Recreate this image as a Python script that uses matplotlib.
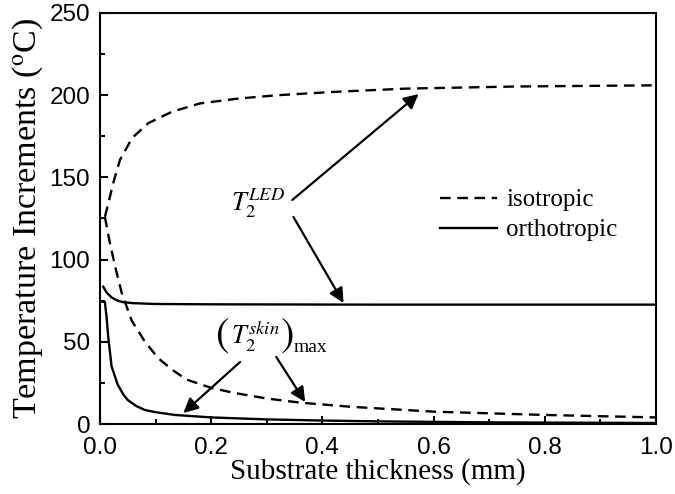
import matplotlib
matplotlib.use("Agg")
import matplotlib.pyplot as plt
from matplotlib.ticker import MultipleLocator

plt.rcParams['mathtext.fontset'] = 'stix'

# Data
iso_led_x = [0.009, 0.015, 0.024, 0.036, 0.058, 0.087, 0.13, 0.18, 0.25, 0.32, 0.42, 0.55, 0.75, 1.0]
iso_led_y = [126, 134, 146.6, 160.6, 174, 183, 190, 195, 198, 200, 202, 204, 205.3, 206]

iso_skin_x = [0.009, 0.018, 0.028, 0.039, 0.057, 0.081, 0.105, 0.13, 0.156, 0.2, 0.24, 0.3, 0.36, 0.45, 0.6, 0.8, 1.0]
iso_skin_y = [126, 110, 95, 80, 63, 50, 40, 33, 27, 22, 19, 15.5, 13, 10.5, 7.5, 5.5, 4]

orth_led_x = [0.006, 0.012, 0.021, 0.03, 0.04, 0.06, 0.1, 0.2, 0.5, 1.0]
orth_led_y = [83.5, 80, 77, 75.3, 74.2, 73.5, 73, 72.8, 72.6, 72.6]

orth_skin_x = [0.003, 0.009, 0.012, 0.015, 0.021, 0.032, 0.042, 0.05, 0.065, 0.081, 0.1, 0.135, 0.2, 0.3, 0.4, 0.5, 0.7, 1.0]
orth_skin_y = [74.5, 74.2, 65, 53, 35, 24, 18, 14.6, 11, 8.5, 7.2, 5.5, 4.0, 2.8, 2.1, 1.6, 1.0, 0.6]

series_labels = ["isotropic", "orthotropic"]
x_ticks = [0.0, 0.2, 0.4, 0.6, 0.8, 1.0]
y_ticks = [0, 50, 100, 150, 200, 250]

fig = plt.figure(figsize=(6.75, 4.94), dpi=100)
ax = fig.add_axes([0.148, 0.1417, 0.824, 0.832])

dash = (0, (4.5, 2.8))
l1, = ax.plot(iso_led_x, iso_led_y, color='k', lw=1.7, linestyle=dash, label=series_labels[0])
ax.plot(iso_skin_x, iso_skin_y, color='k', lw=1.7, linestyle=dash)
l2, = ax.plot(orth_led_x, orth_led_y, color='k', lw=1.7, label=series_labels[1])
ax.plot(orth_skin_x, orth_skin_y, color='k', lw=1.7)

ax.set_xlim(0, 1.0)
ax.set_ylim(0, 250)
ax.set_xticks(x_ticks)
ax.set_yticks(y_ticks)
ax.set_xticklabels([f"{v:.1f}" for v in x_ticks])
ax.set_yticklabels([str(v) for v in y_ticks])
ax.xaxis.set_minor_locator(MultipleLocator(0.1))
ax.yaxis.set_minor_locator(MultipleLocator(25))
ax.tick_params(which='both', direction='in', top=False, right=False, width=1.5)
ax.tick_params(which='major', length=6, labelsize=17.5)
ax.tick_params(axis='x', which='major', pad=9)
ax.tick_params(axis='y', which='major', pad=7)
ax.tick_params(which='minor', length=3.5)
for lab in ax.get_xticklabels() + ax.get_yticklabels():
    lab.set_fontfamily('Liberation Sans')
for s in ax.spines.values():
    s.set_linewidth(1.5)

ax.set_xlabel("Substrate thickness (mm)", fontfamily='Liberation Serif', fontsize=21, labelpad=0)
ax.set_ylabel(r"Temperature Increments ($^{\rm o}$C)", fontfamily='Liberation Serif', fontsize=24.5, labelpad=3)

leg = ax.legend(handles=[l1, l2], loc='center left', bbox_to_anchor=(0.611, 0.508),
                frameon=False, borderpad=0, borderaxespad=0, handlelength=2.3,
                handletextpad=0.35, labelspacing=0.3,
                prop={'family': 'Liberation Serif', 'size': 18})

ax.text(0.236, 129.9, r"$T_2^{LED}$", fontsize=19, ha='left', va='baseline')
ax.text(0.219, 53.2, "(", fontsize=29, ha='center', va='center', fontfamily='STIXGeneral')
ax.text(0.236, 48.1, r"$T_2^{skin}$", fontsize=19, ha='left', va='baseline')
ax.text(0.338, 53.2, ")", fontsize=29, ha='center', va='center', fontfamily='STIXGeneral')
ax.text(0.349, 43.8, "max", fontsize=14, ha='left', va='baseline', fontfamily='Liberation Serif')

aprops = dict(arrowstyle='-|>', mutation_scale=22, lw=1.6, color='k', shrinkA=0, shrinkB=0)
ax.annotate("", xy=(0.573, 200.7), xytext=(0.346, 136.3), arrowprops=aprops)
ax.annotate("", xy=(0.438, 73.6), xytext=(0.348, 125.9), arrowprops=aprops)
ax.annotate("", xy=(0.150, 6.7), xytext=(0.252, 37.7), arrowprops=aprops)
ax.annotate("", xy=(0.369, 13.4), xytext=(0.317, 40.8), arrowprops=aprops)

fig.savefig("out.png", dpi=100)
